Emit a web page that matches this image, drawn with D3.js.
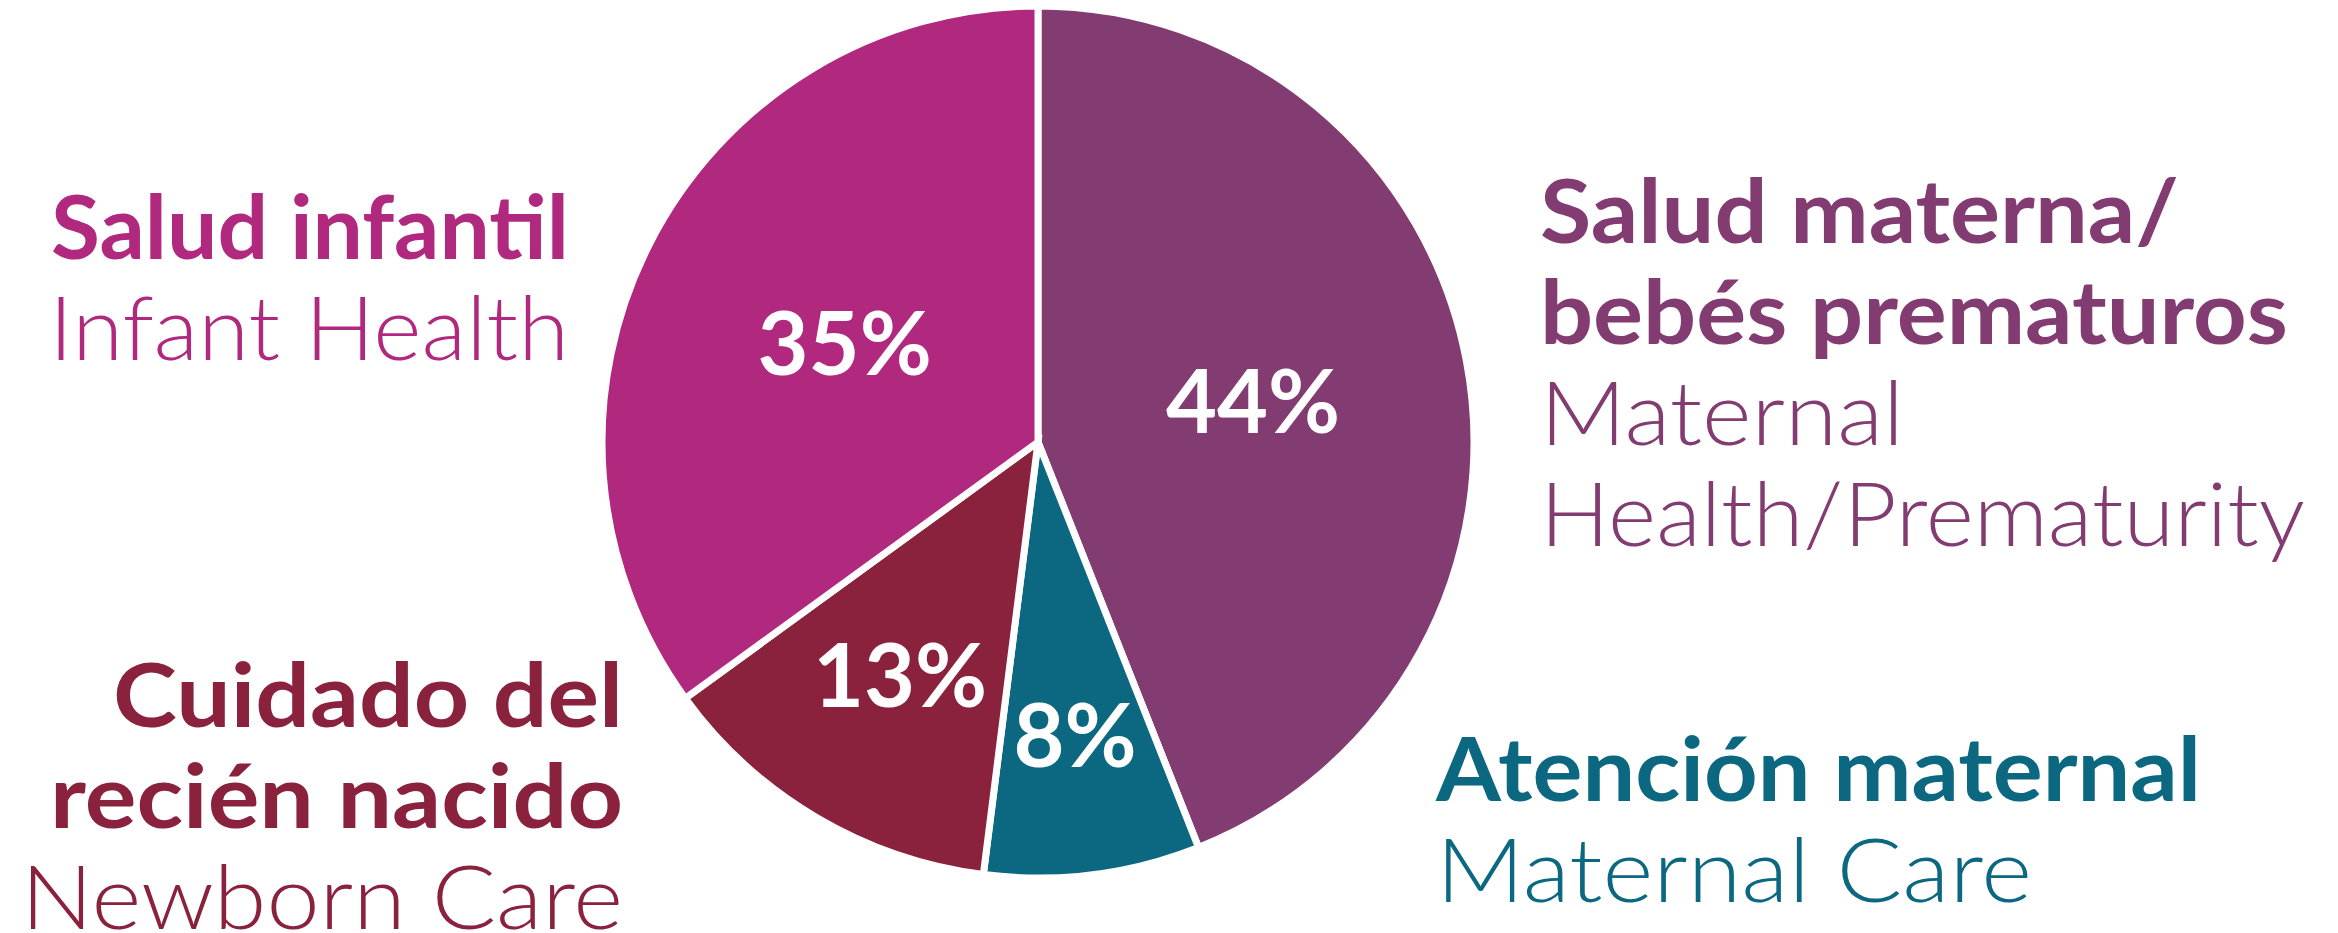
<!DOCTYPE html>
<html>
<head>
<meta charset="utf-8">
<script src="https://cdn.jsdelivr.net/npm/d3@7"></script>
<style>
  html, body { margin: 0; padding: 0; background: #fff; }
  svg { display: block; }
  text { font-family: Lato, "Open Sans", "DejaVu Sans", sans-serif; }
</style>
</head>
<body>
<div id="chart"></div>
<script>
// pie data, clockwise from 12 o'clock
var categories = ["Salud materna/bebés prematuros", "Atención maternal", "Cuidado del recién nacido", "Salud infantil"];
var values = [44, 8, 13, 35];
var percentLabels = ["44%", "8%", "13%", "35%"];
var spanishLines = [
    ["Salud materna/", "bebés prematuros"],
    ["Atención maternal"],
    ["Cuidado del", "recién nacido"],
    ["Salud infantil"]
];
var englishLines = [
    ["Maternal", "Health/Prematurity"],
    ["Maternal Care"],
    ["Newborn Care"],
    ["Infant Health"]
];
var colors = ["#833c71", "#0c6880", "#8a213d", "#b0297e"];

// layout
//---------------------------------------------------------------------------
var W = 2338, H = 933;
var cx = 1038, cy = 442;
var radius = 436;
var fontSize = 88;
var lineGap = 101;
// distance of each percent label from the centre
var labelRadius = [219, 296, 271, 217];
// left x (or right edge), first baseline and line widths for the category blocks
var blocks = [
    { x: 1540, y: 243, widths: [639, 748, 364, 765] },
    { x: 1436, y: 801, widths: [765, 596] },
    { x: 0, y: 727, right: 623, widths: [510, 573, 602] },
    { x: 0, y: 259, right: 569, widths: [518, 520] }
];

var svg = d3.select("#chart").append("svg")
    .attr("width", W)
    .attr("height", H);

var pie = d3.pie().sort(null).value(function(d) { return d; });
var arcs = pie(values);

var arc = d3.arc().innerRadius(0).outerRadius(radius);

var g = svg.append("g").attr("transform", "translate(" + cx + "," + cy + ")");

g.selectAll("path.slice")
    .data(arcs).enter()
    .append("path")
    .attr("class", "slice")
    .attr("d", arc)
    .attr("fill", function(d, i) { return colors[i]; })
    .attr("stroke", "#fff")
    .attr("stroke-width", 7)
    .attr("stroke-linejoin", "miter");

// percent labels inside the slices
g.selectAll("text.pct")
    .data(arcs).enter()
    .append("text")
    .attr("class", "pct")
    .attr("transform", function(d, i) {
        var c = d3.arc().innerRadius(labelRadius[i]).outerRadius(labelRadius[i]).centroid(d);
        return "translate(" + c[0] + "," + c[1] + ")";
    })
    .attr("text-anchor", "middle")
    .attr("dy", "0.36em")
    .attr("fill", "#fff")
    .attr("font-weight", 700)
    .attr("font-size", fontSize)
    .text(function(d, i) { return percentLabels[i]; });

// category labels: bold spanish lines, then light english lines
categories.forEach(function(cat, i) {
    var b = blocks[i];
    var lines = spanishLines[i].map(function(t) { return { t: t, bold: true }; })
        .concat(englishLines[i].map(function(t) { return { t: t, bold: false }; }));
    var grp = svg.append("g").attr("class", "cat");
    lines.forEach(function(l, j) {
        var w = b.widths[j];
        var x = b.right !== undefined ? b.right - w : b.x;
        grp.append("text")
            .attr("x", x)
            .attr("y", b.y + j * lineGap)
            .attr("fill", colors[i])
            .attr("font-size", fontSize)
            .attr("font-weight", l.bold ? 700 : 300)
            .attr("textLength", w)
            .attr("lengthAdjust", "spacingAndGlyphs")
            .text(l.t);
    });
});
</script>
</body>
</html>
